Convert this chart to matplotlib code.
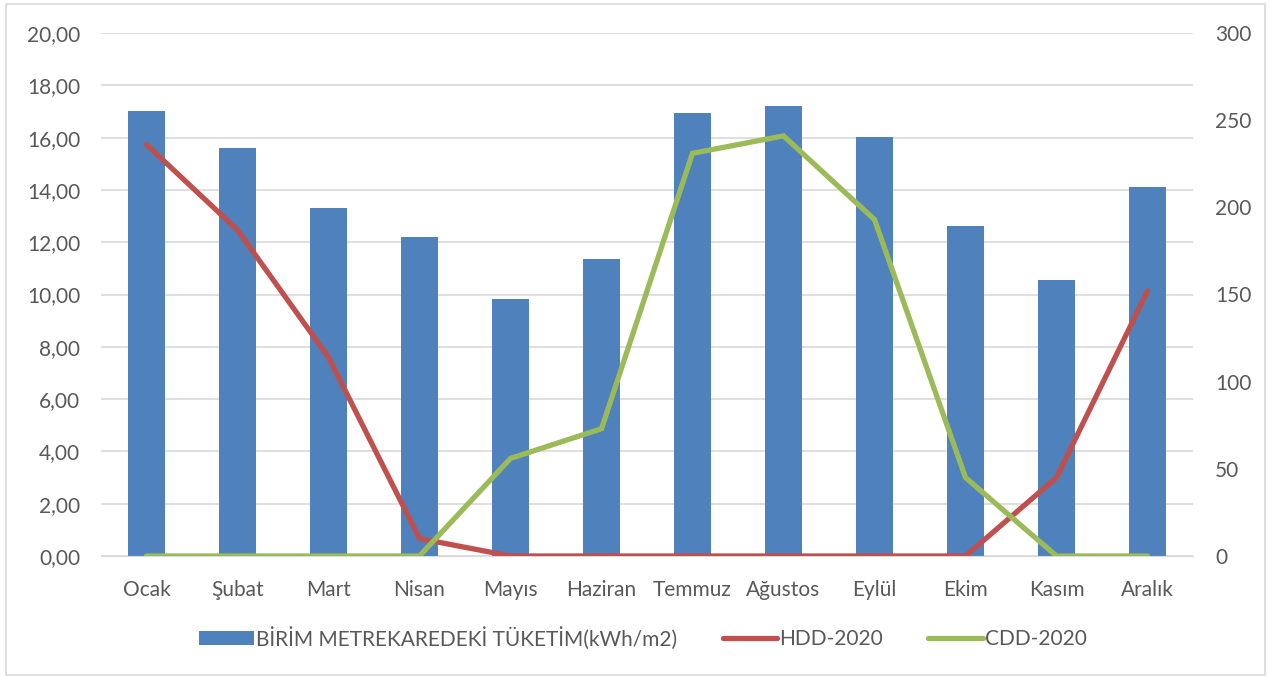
import matplotlib
matplotlib.use("Agg")
import matplotlib.pyplot as plt
from matplotlib.patches import Rectangle
from matplotlib.ticker import FuncFormatter, MultipleLocator
import numpy as np

months = ["Ocak", "Şubat", "Mart", "Nisan", "Mayıs", "Haziran",
          "Temmuz", "Ağustos", "Eylül", "Ekim", "Kasım", "Aralık"]
consumption = [17.02, 15.61, 13.32, 12.20, 9.83, 11.35,
               16.95, 17.21, 16.01, 12.62, 10.54, 14.12]
hdd = [236, 187, 114, 10, 0, 0, 0, 0, 0, 0, 45, 152]
cdd = [0, 0, 0, 0, 56, 73, 231, 241, 193, 45, 0, 0]

bar_label = "BİRİM METREKAREDEKİ TÜKETİM(kWh/m2)"
hdd_label = "HDD-2020"
cdd_label = "CDD-2020"

BLUE = "#4f81bd"
RED = "#c0504d"
GREEN = "#9bbb59"
GRID = "#d9d9d9"
TEXT = "#595959"

plt.rcParams["font.family"] = ["Lato", "DejaVu Sans"]
FS = 15

W, H = 1269, 677
fig = plt.figure(figsize=(W / 100, H / 100), dpi=100)
fig.patches.append(Rectangle((6 / W, 2 / H), (W - 10) / W, (H - 6) / H,
                             transform=fig.transFigure, fill=False,
                             edgecolor=GRID, linewidth=1.2))

left, right, top, bottom = 101, 1193, 33, 556
ax = fig.add_axes([left / W, 1 - bottom / H, (right - left) / W, (bottom - top) / H])
ax2 = ax.twinx()

x = np.arange(len(months))
bars = ax.bar(x, consumption, width=0.4, color=BLUE, zorder=2, label=bar_label)
l1, = ax2.plot(x, hdd, color=RED, linewidth=3.8, solid_capstyle="round",
               solid_joinstyle="miter", label=hdd_label)
l2, = ax2.plot(x, cdd, color=GREEN, linewidth=3.8, solid_capstyle="round",
               solid_joinstyle="miter", label=cdd_label)

ax.set_xlim(-0.5, len(months) - 0.5)
ax.set_ylim(0, 20)
ax2.set_ylim(0, 300)
ax.yaxis.set_major_locator(MultipleLocator(2))
ax2.yaxis.set_major_locator(MultipleLocator(50))
ax.yaxis.set_major_formatter(FuncFormatter(lambda v, p: f"{v:.2f}".replace(".", ",")))
ax2.yaxis.set_major_formatter(FuncFormatter(lambda v, p: f"{int(v)}"))

ax.set_xticks(x)
ax.set_xticklabels(months)
ax.grid(axis="y", color=GRID, linewidth=1.2, zorder=0)
ax.set_axisbelow(True)

for a in (ax, ax2):
    for s in a.spines.values():
        s.set_visible(False)
    a.tick_params(length=0, labelsize=FS, labelcolor=TEXT)
ax.tick_params(axis="y", pad=15)
ax.tick_params(axis="x", pad=17)
ax2.tick_params(axis="y", pad=16)
ax.spines["bottom"].set_visible(True)
ax.spines["bottom"].set_color(GRID)

fig.legend([bars, l1, l2], [bar_label, hdd_label, cdd_label],
           loc="center", bbox_to_anchor=(643 / W, 1 - 638 / H), ncol=3,
           frameon=False, fontsize=FS, labelcolor=TEXT, handlelength=2.6,
           handletextpad=0.1, columnspacing=2.2)

fig.savefig("out.png", dpi=100)
